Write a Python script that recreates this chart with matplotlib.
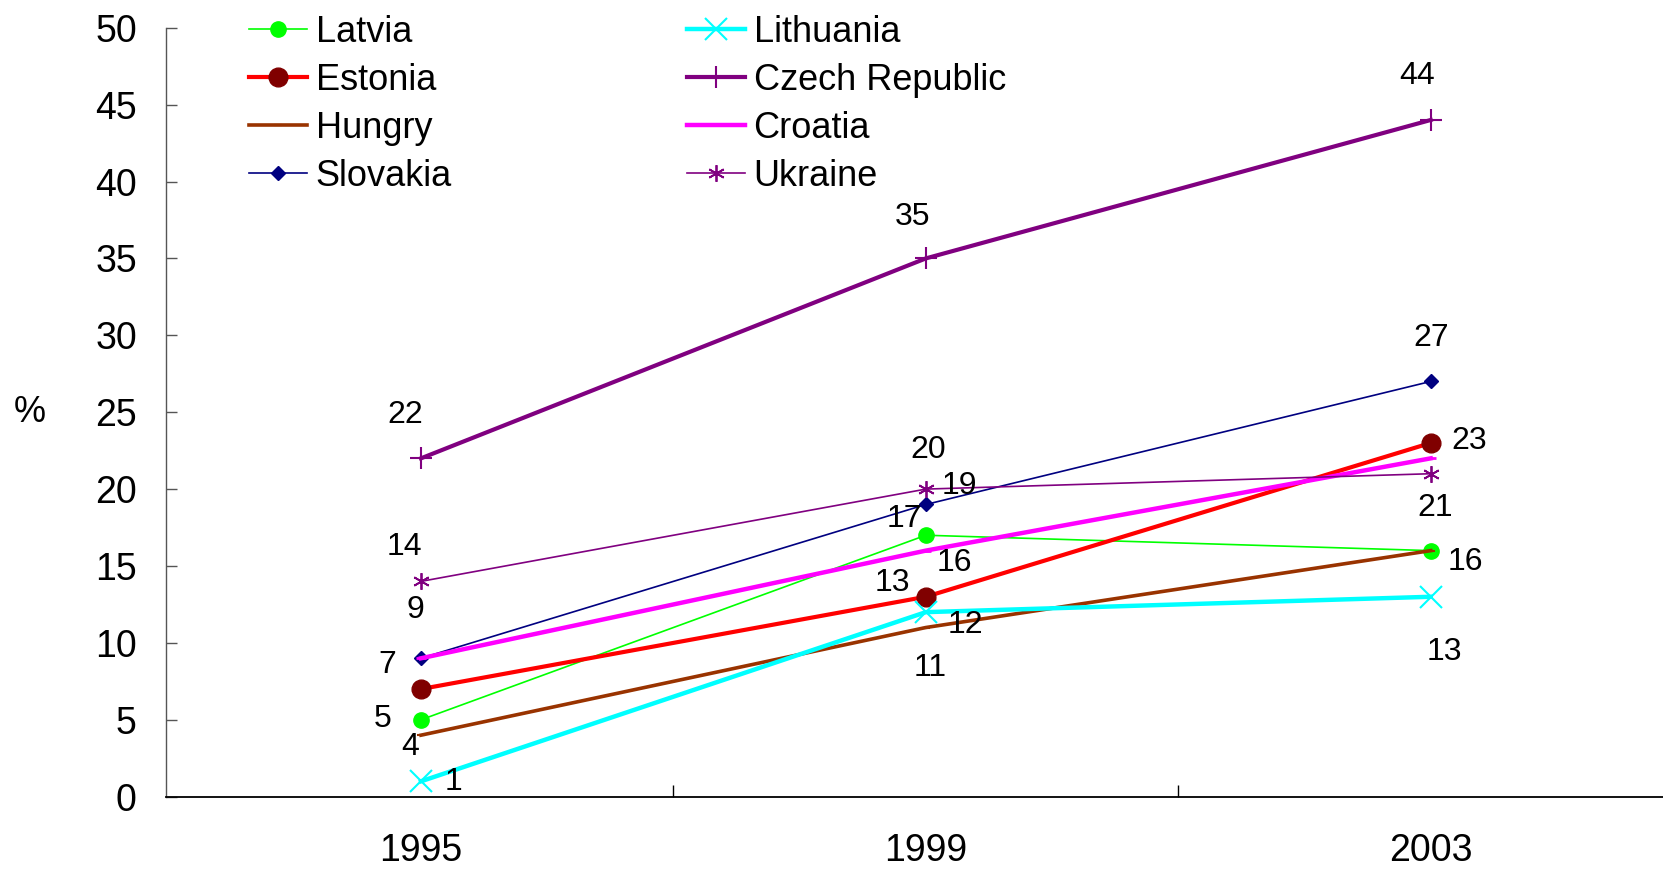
import matplotlib
matplotlib.use("Agg")
import matplotlib.pyplot as plt

plt.rcParams['font.family'] = ['Liberation Sans', 'DejaVu Sans']

# Data (%)
years = ["1995", "1999", "2003"]
latvia = [5, 17, 16]
estonia = [7, 13, 23]
hungry = [4, 11, 16]
slovakia = [9, 19, 27]
lithuania = [1, 12, 13]
czech = [22, 35, 44]
croatia = [9, 16, 22]
ukraine = [14, 20, 21]

names = ["Latvia", "Estonia", "Hungry", "Slovakia",
         "Lithuania", "Czech Republic", "Croatia", "Ukraine"]
series = [latvia, estonia, hungry, slovakia, lithuania, czech, croatia, ukraine]

# line styles: colour, line width, marker, marker size, marker edge width
styles = [
    ("#00ff00", 1.2, "o", 11, 1.0),
    ("#ff0000", 3.0, "o", 13.5, 1.0),
    ("#993300", 2.6, "_", 6, 1.5),
    ("#000080", 1.2, "D", 7, 1.0),
    ("#00ffff", 3.2, "x", 16, 1.5),
    ("#800080", 3.0, "+", 16, 1.5),
    ("#ff00ff", 3.2, "_", 7, 2.0),
    ("#800080", 1.2, (6, 2, 0), 12, 1.3),
]
face = ["#00ff00", "#800000", "#993300", "#000080",
        "#00ffff", "#800080", "#ff00ff", "#800080"]

# value labels: (series index, point index, dx, dy) offsets in points
value_labels = [
    (5, 0, -11.5, 31.5), (5, 1, -9.9, 29.5), (5, 2, -9.9, 31.5),
    (7, 0, -12.2, 25), (7, 1, 1.5, 28), (7, 2, 3.1, -25),
    (3, 0, -3.8, 35), (3, 1, 24.4, 13), (3, 2, 0, 31.5),
    (1, 0, -24.4, 17.5), (1, 1, -24.4, 10), (1, 2, 27.5, 1.5),
    (0, 0, -27.5, 0.5), (0, 1, -15.3, 12), (0, 2, 25.2, -8.4),
    (2, 0, -7.6, -8.4), (2, 1, 3.1, -29),
    (4, 0, 23.7, -0.8), (4, 1, 28.3, -9.2), (4, 2, 9.9, -39.5),
    (6, 1, 20.6, -9.2),
]

fig = plt.figure(figsize=(16.63, 8.69), dpi=100)
ax = fig.add_axes([166 / 1663, 1 - 796.7 / 869, 1 - 166 / 1663, (796.7 - 27.7) / 869])

x = list(range(len(years)))
for name, vals, st, fc in zip(names, series, styles, face):
    col, lw, mk, ms, mew = st
    ax.plot(x, vals, color=col, linewidth=lw, marker=mk, markersize=ms,
            markerfacecolor=fc, markeredgecolor=fc, markeredgewidth=mew,
            label=name, clip_on=False)

for si, pi, dx, dy in value_labels:
    ax.annotate(str(series[si][pi]), (x[pi], series[si][pi]),
                xytext=(dx, dy), textcoords="offset points",
                ha="center", va="center", fontsize=23)

ax.set_xlim(-0.505, 2.46)
ax.set_ylim(0, 50)
ax.set_yticks(range(0, 51, 5))
ax.set_xticks(x)
ax.set_xticklabels(years)
ax.set_xticks([0.5, 1.5], minor=True)
ax.tick_params(axis="x", which="major", length=0, pad=26, labelsize=27)
ax.tick_params(axis="x", which="minor", direction="in", length=8.5, width=1, color="black")
ax.tick_params(axis="y", direction="in", length=8, width=1, color="#555555", pad=21, labelsize=27)

ax.spines["top"].set_visible(False)
ax.spines["right"].set_visible(False)
ax.spines["left"].set_color("#555555")
ax.spines["left"].set_linewidth(1)
ax.spines["bottom"].set_linewidth(1.3)

fig.text(29.7 / 1663, 1 - 412.6 / 869, "%", ha="center", va="center", fontsize=26)

ax.legend(ncol=2, loc="upper left", bbox_to_anchor=(249 / 1663, 1 - 15 / 869),
          bbox_transform=fig.transFigure, frameon=False, fontsize=26,
          handlelength=1.6, handletextpad=0.25, columnspacing=6.5,
          labelspacing=0.36, borderpad=0, borderaxespad=0)

fig.savefig("out.png", dpi=100)
